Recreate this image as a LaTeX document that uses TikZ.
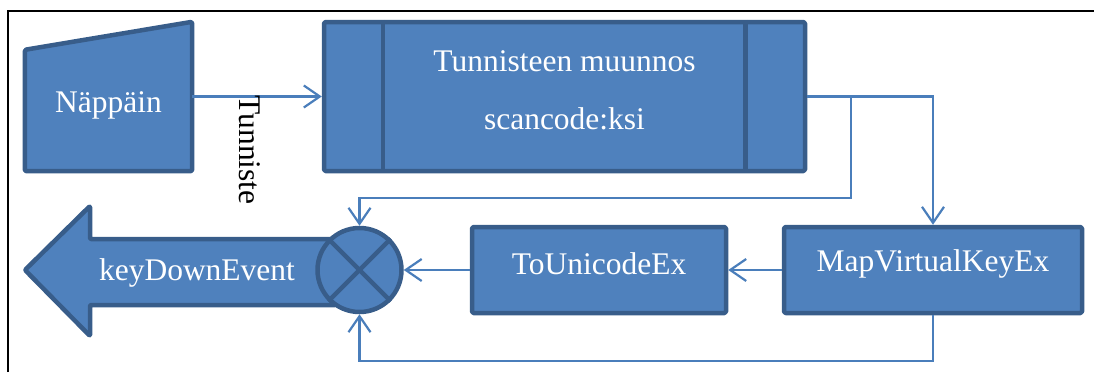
\documentclass[tikz,border=0pt]{standalone}
\usepackage{fontspec}
\setmainfont{Liberation Serif}
\usetikzlibrary{arrows.meta,calc}
\definecolor{bfill}{HTML}{4F81BD}
\definecolor{bline}{HTML}{385D8A}
\definecolor{cline}{HTML}{4A7EBB}
\tikzset{
  shapebox/.style={draw=bline,fill=bfill,line width=4.5pt,rounded corners=1.5pt,line join=round},
  boxnode/.style={shapebox,rectangle,inner sep=0pt},
  wtext/.style={text=white,font=\fontsize{31.5}{38}\selectfont,inner sep=0pt},
  conn/.style={draw=cline,line width=2.2pt,-{Straight Barb[length=16pt,width=22pt,line width=2.2pt]}},
  plain/.style={draw=cline,line width=2.2pt},
}
\begin{document}
\begin{tikzpicture}[x=1pt,y=-1pt]
\useasboundingbox (0,0) rectangle (1094,372);
\draw[line width=1.6pt] (8,372) -- (8,11) -- (1094,11);
% Nappain (manual input)
\node[minimum width=167pt,minimum height=149pt,inner sep=0pt] (nap) at (108.5,96.5) {};
\draw[shapebox] (nap.south west) -- (nap.south east) -- (nap.north east) -- ($(nap.north west)+(0,28)$) -- cycle;
\node[wtext] (naptext) at (108.5,105) {Näppäin};
% predefined process
\node[boxnode,minimum width=481pt,minimum height=149pt] (tm) at (564.5,96.5) {};
\draw[bline,line width=4.5pt] ($(tm.north west)+(61,0)$) -- ($(tm.south west)+(61,0)$);
\draw[bline,line width=4.5pt] ($(tm.north east)+(-62,0)$) -- ($(tm.south east)+(-62,0)$);
\node[wtext] (tmtext1) at (564.5,61) {Tunnisteen muunnos};
\node[wtext] (tmtext2) at (564.5,119) {scancode:ksi};
% boxes
\node[boxnode,minimum width=254pt,minimum height=86pt] (tu) at (599,270) {};
\node[wtext] (tutext) at (599,264) {ToUnicodeEx};
\node[boxnode,minimum width=298pt,minimum height=86pt] (mv) at (933,270) {};
\node[wtext] (mvtext) at (933,264) {MapVirtualKeyEx};
% left block arrow
\draw[shapebox,rounded corners=1pt] (25,270) -- (90,206) -- (90,239) -- (336,239) -- (336,305) -- (90,305) -- (90,336) -- cycle;
\node[wtext] (kde) at (197,273) {keyDownEvent};
% summing junction
\node[shapebox,circle,minimum size=84pt,inner sep=0pt] (sum) at (359.5,270) {};
\draw[bline,line width=4.5pt] (sum.north west) -- (sum.south east);
\draw[bline,line width=4.5pt] (sum.north east) -- (sum.south west);
% connectors
\draw[conn] (nap.east) -- (tm.west);
\node[rotate=-90,font=\fontsize{31.5}{38}\selectfont,inner sep=0pt] (tun) at (250,150) {Tunniste};
\draw[conn] (tm.east) -| (mv.north);
\coordinate (br) at (851,96.5);
\coordinate (ret1) at (851,198);
\draw[conn] (br) -- (ret1) -| (sum.north);
\draw[conn] (mv.west) -- (tu.east);
\draw[conn] (tu.west) -- (sum.east);
\coordinate (ret2) at (933,361);
\draw[conn] (mv.south) -- (ret2) -| (sum.south);
\end{tikzpicture}
\end{document}
